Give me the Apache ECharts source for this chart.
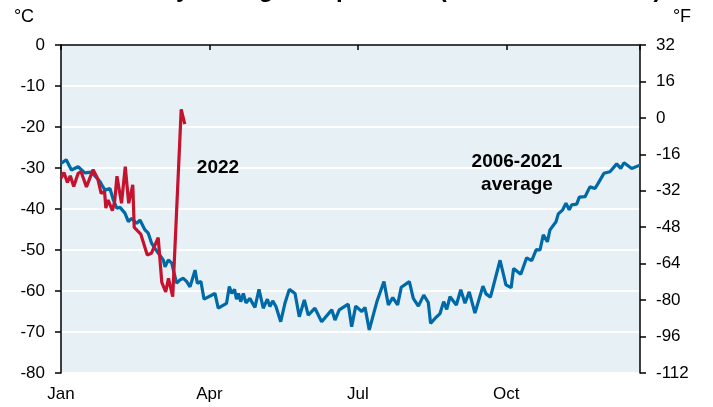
<!DOCTYPE html>
<html>
<head>
<meta charset="utf-8">
<script src="https://cdn.jsdelivr.net/npm/echarts@6/dist/echarts.min.js"></script>
<style>
html,body{margin:0;padding:0;background:#fff;}
#chart{width:713px;height:407px;}
</style>
</head>
<body>
<div id="chart"></div>
<script>
// x = day of year (0 = 1 Jan); temperatures in °C
const avgDays = [0,3.2,6.4,10.5,14.6,18.7,23.9,25,27,30,32.1,34.2,36.2,39.2,41.3,43.3,46.4,48.4,51.5,53.5,55.6,57.6,59.7,60.7,62.7,63.8,65.8,67.9,68.9,70.9,73,75,77.1,79.1,80.7,82.2,83.6,85.8,87.7,94.4,96.4,101.5,103.2,104.7,106.4,107.6,108.8,110.2,111.8,113.4,115.9,116.9,118.9,121.4,124,126.5,128.1,129.8,131.8,134.7,137.3,140,143.5,146.1,149.2,151.6,155.7,159.8,166,168,170.6,176.1,178.2,180.7,184.4,186.4,189,193.6,198,200.7,203.4,206.4,208.6,213.6,216,219.1,222.4,225.2,226.6,229.3,232.4,234.6,236.5,238.5,242.4,245.1,247.7,250.3,253.8,258.7,260.6,263.3,269.2,272.8,276,277.5,281.9,285.5,288.6,291.4,293.7,295.7,298.2,299.8,303.5,304.9,307.6,309.6,311.6,313.1,316.2,317.8,321.3,324.3,327.4,329.4,332.9,336.6,340.7,343.2,345.2,349.9,355];
const avgTemps = [-28.9,-28.0,-30.5,-29.7,-31.2,-31.0,-33.3,-34.1,-35.4,-35.0,-37.8,-39.8,-39.6,-41.0,-43.1,-42.3,-43.5,-42.7,-45.1,-45.9,-48.4,-49.6,-50.8,-50.4,-52.4,-54.1,-52.4,-53.2,-54.9,-58.1,-57.3,-56.9,-57.7,-59.0,-56.9,-54.9,-58.1,-57.7,-62.0,-60.6,-64.2,-63.0,-58.9,-60.6,-59.6,-62.0,-60.6,-62.6,-60.6,-62.9,-61.8,-62.6,-64.0,-59.6,-64.2,-62.0,-63.8,-62.4,-63.8,-67.5,-63.0,-59.6,-60.6,-66.3,-62.2,-65.9,-64.2,-67.5,-64.6,-67.1,-64.6,-63.2,-68.7,-63.7,-65.0,-64.0,-69.5,-62.7,-57.7,-63.4,-61.6,-63.4,-59.1,-57.7,-61.8,-63.7,-61.0,-62.8,-67.9,-66.7,-65.5,-62.6,-64.5,-61.4,-63.4,-59.7,-63.0,-60.2,-65.4,-58.8,-60.7,-61.5,-52.5,-58.5,-59.2,-54.5,-55.9,-51.9,-52.6,-49.9,-50.0,-46.3,-48.0,-45.1,-43.1,-41.2,-40.2,-38.6,-40.2,-39.0,-38.8,-37.1,-37.0,-34.6,-35.0,-33.7,-31.3,-30.9,-29.0,-30.1,-28.7,-30.1,-29.3];
const days2022 = [0,1.8,3.9,5.7,7.8,10.5,12.3,15.6,19.7,22.6,24.6,26.7,27.5,28.9,31.5,32.9,34.3,37.1,39.4,41.5,44,44.9,48.9,52.9,55.4,59.6,61.8,64.2,65.9,68.5,73.7,75.9];
const temps2022 = [-32.5,-31.1,-33.5,-31.9,-34.5,-31.3,-30.9,-34.6,-30.4,-32.7,-36.2,-35.7,-39.8,-37.8,-40.4,-38.2,-32.0,-38.6,-29.7,-38.6,-34.1,-44.5,-46.1,-51.2,-50.8,-47.0,-57.9,-60.2,-56.9,-61.4,-15.7,-19.3];
const monthTicks = ['Jan','Apr','Jul','Oct'];
const celsiusTicks = [0,-10,-20,-30,-40,-50,-60,-70,-80];
const fahrenheitTicks = [32,16,0,-16,-32,-48,-64,-80,-96,-112];
const seriesNames = ['2006-2021 average','2022'];

const FONT = 'Liberation Sans, Arial, sans-serif';
const chart = echarts.init(document.getElementById('chart'), null, {renderer:'canvas'});
const avgData = avgDays.map((d,i)=>[d, avgTemps[i]]);
const data2022 = days2022.map((d,i)=>[d, temps2022[i]]);
const QUARTER = 91;

function label(x, y, text, font){
  return {type:'text',z:100,zlevel:0,style:{x:x,y:y,text:text,font:font,fill:'#000',
    textAlign:'center',textVerticalAlign:'middle',align:'center',verticalAlign:'middle'}};
}

const option = {
  animation:false,
  backgroundColor:'#ffffff',
  grid:{left:61,right:73,top:45,bottom:34,show:true,backgroundColor:'#e7f0f4',borderWidth:0},
  xAxis:[
    {type:'value',position:'bottom',min:0,max:355,interval:QUARTER,
     axisLine:{show:false},axisTick:{show:false},splitLine:{show:false},
     axisLabel:{show:true,margin:13,fontSize:17,color:'#000',fontFamily:FONT,showMaxLabel:false,
       formatter:v=>{const i=Math.round(v/QUARTER);return (Math.abs(v-i*QUARTER)<0.01 && monthTicks[i])?monthTicks[i]:'';}}},
    {type:'value',position:'top',min:0,max:355,interval:QUARTER,
     axisLine:{show:true,onZero:false,lineStyle:{color:'#000',width:1.5}},
     axisTick:{show:true,inside:true,length:5,lineStyle:{color:'#000',width:1.5}},
     axisLabel:{show:false},splitLine:{show:false}}
  ],
  yAxis:[
    {type:'value',position:'left',min:-80,max:0,interval:10,
     axisLine:{show:true,onZero:false,lineStyle:{color:'#000',width:1.5}},
     axisTick:{show:true,length:6,lineStyle:{color:'#000',width:1.5}},
     axisLabel:{margin:16,fontSize:17,color:'#000',fontFamily:FONT,
       formatter:v=>celsiusTicks.includes(v)?String(v):''},
     splitLine:{show:true,lineStyle:{color:'#ffffff',width:2}}},
    {type:'value',position:'right',min:-112,max:32,interval:16,
     axisLine:{show:true,onZero:false,lineStyle:{color:'#000',width:1.5}},
     axisTick:{show:true,length:6,lineStyle:{color:'#000',width:1.5}},
     axisLabel:{margin:16,fontSize:17,color:'#000',fontFamily:FONT,
       formatter:v=>fahrenheitTicks.includes(v)?String(v):''},
     splitLine:{show:false}}
  ],
  series:[
    {name:seriesNames[0],type:'line',xAxisIndex:0,yAxisIndex:0,data:avgData,showSymbol:false,symbol:'none',
     lineStyle:{color:'#0069a7',width:3.2},z:2},
    {name:seriesNames[1],type:'line',xAxisIndex:0,yAxisIndex:0,data:data2022,showSymbol:false,symbol:'none',
     lineStyle:{color:'#c4122f',width:3.2},z:3}
  ],
  graphic:[
    {type:'text',z:100,left:132,top:-22,style:{text:'Daily average temperature (Concordia Station)',font:'bold 24px '+FONT,fill:'#000'}},
    label(24,17,'°C','18px '+FONT),
    label(682,17,'°F','18px '+FONT),
    label(218,168,seriesNames[1],'bold 19px '+FONT),
    label(517,162,'2006-2021','bold 19px '+FONT),
    label(517,185,'average','bold 19px '+FONT)
  ]
};
chart.setOption(option);
</script>
</body>
</html>
